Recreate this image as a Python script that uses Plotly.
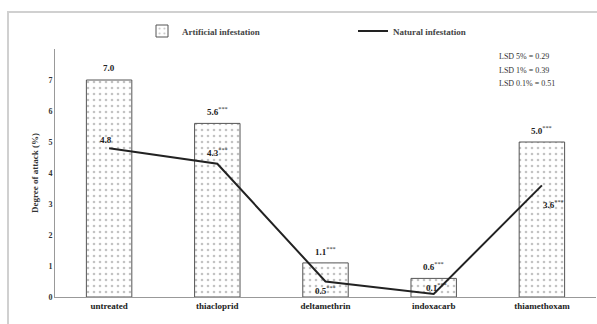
import plotly.graph_objects as go

categories = ["untreated", "thiacloprid", "deltamethrin", "indoxacarb", "thiamethoxam"]
artificial = [7.0, 5.6, 1.1, 0.6, 5.0]
natural = [4.8, 4.3, 0.5, 0.1, 3.6]
art_sig = ["", "***", "***", "***", "***"]
nat_sig = ["", "***", "***", "***", "***"]
y_ticks = [0, 1, 2, 3, 4, 5, 6, 7]
lsd_lines = ["LSD 5% = 0.29", "LSD 1% = 0.39", "LSD 0.1% = 0.51"]

SERIF = "Liberation Serif"
W, H = 597, 324
ML, MR, MT, MB = 55, 1, 49, 27
PW, PH = W - ML - MR, H - MT - MB

fig = go.Figure()
fig.add_trace(go.Bar(
    x=categories, y=artificial, name="<b>Artificial infestation</b>",
    width=0.42, legend="legend",
    marker=dict(color="white", line=dict(color="#555", width=1),
                pattern=dict(shape=".", fgcolor="#888", bgcolor="white", size=6, solidity=0.15)),
))
fig.add_trace(go.Scatter(
    x=categories, y=natural, name="<b>Natural infestation</b>", mode="lines",
    legend="legend2",
    line=dict(color="#222", width=2),
))

def lab(v, s):
    t = f"<b>{v:.1f}</b>"
    if s:
        t += f"<sup>{s}</sup>"
    return t

for c, v, s in zip(categories, artificial, art_sig):
    fig.add_annotation(x=c, y=v, text=lab(v, s), showarrow=False, yshift=12,
                       font=dict(family=SERIF, size=9, color="#222"))

nat_shift = [(-3, 8), (0, 12), (0, -8), (3, 7), (12, -19)]
for c, v, s, (dx, dy) in zip(categories, natural, nat_sig, nat_shift):
    fig.add_annotation(x=c, y=v, text=lab(v, s), showarrow=False, xshift=dx, yshift=dy,
                       font=dict(family=SERIF, size=9, color="#222"))

for i, t in enumerate(lsd_lines):
    fig.add_annotation(xref="paper", yref="paper",
                       x=(497 - ML) / PW, y=(H - MB - (57 + 13 * i)) / PH,
                       text=t, showarrow=False, xanchor="left", yanchor="middle",
                       font=dict(family=SERIF, size=8, color="#333"))

# outer frame
fig.add_shape(type="rect", xref="paper", yref="paper",
              x0=(8 - ML) / PW, x1=(W + 5 - ML) / PW,
              y0=(H - MB - (H + 5)) / PH, y1=(H - MB - 12) / PH,
              line=dict(color="#d0d0d0", width=2), fillcolor="rgba(0,0,0,0)", layer="below")

leg_common = dict(orientation="h", xanchor="left", yanchor="middle",
                  font=dict(family=SERIF, size=9, color="#444"), bgcolor="rgba(0,0,0,0)")

fig.update_layout(
    width=W, height=H,
    margin=dict(l=ML, r=MR, t=MT, b=MB),
    paper_bgcolor="white", plot_bgcolor="white",
    showlegend=True,
    legend=dict(x=(142 - ML) / PW, y=(H - MB - 31) / PH, **leg_common),
    legend2=dict(x=(353 - ML) / PW, y=(H - MB - 31) / PH, **leg_common),
    bargap=0.5,
    xaxis=dict(range=[-0.5, 4.5], showline=True, linecolor="#999", linewidth=1,
               ticks="", tickfont=dict(family=SERIF, size=9, color="#222"),
               tickvals=categories, ticktext=[f"<b>{c}</b>" for c in categories],
               showgrid=False),
    yaxis=dict(range=[0, 8], showline=True, linecolor="#999", linewidth=1,
               tickvals=y_ticks, ticktext=[f"<b>{v}</b>" for v in y_ticks],
               ticks="", showgrid=False, zeroline=False,
               tickfont=dict(family=SERIF, size=8, color="#333"),
               title=dict(text="<b>Degree of attack (%)</b>",
                          font=dict(family=SERIF, size=9, color="#333"),
                          standoff=8)),
)

fig.write_html("out.html")
